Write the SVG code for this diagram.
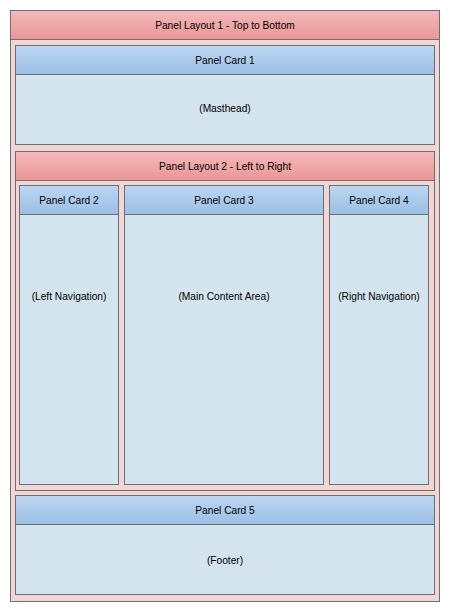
<svg xmlns="http://www.w3.org/2000/svg" width="450" height="612" viewBox="0 0 450 612">
<defs>
<linearGradient id="pink" x1="0" y1="0" x2="0" y2="1">
<stop offset="0" stop-color="#f4b9b9"/>
<stop offset="1" stop-color="#ea9696"/>
</linearGradient>
<linearGradient id="blue" x1="0" y1="0" x2="0" y2="1">
<stop offset="0" stop-color="#bcd6f1"/>
<stop offset="1" stop-color="#9bbfe6"/>
</linearGradient>
</defs>
<style>
rect{stroke:#6f6f6f;stroke-width:1}
.lay{fill:#f2d5d5}
.layh{fill:url(#pink)}
.card{fill:#d4e4ef}
.cardh{fill:url(#blue)}
text{font-family:"Liberation Sans",Arial,sans-serif;font-size:10.2px;fill:#000;text-anchor:middle;dominant-baseline:central}
</style>
<rect width="450" height="612" fill="#ffffff" style="stroke:none"/>
<g id="layout1">
<rect class="lay" x="10.5" y="10.5" width="429" height="591"/>
<rect class="layh" x="10.5" y="10.5" width="429" height="29"/>
<text x="225" y="25">Panel Layout 1 - Top to Bottom</text>
</g>
<g id="card1">
<rect class="card" x="15.5" y="45.5" width="419" height="99"/>
<rect class="cardh" x="15.5" y="45.5" width="419" height="29"/>
<text x="225" y="60">Panel Card 1</text>
<text x="225" y="108">(Masthead)</text>
</g>
<g id="layout2">
<rect class="lay" x="15.5" y="151.5" width="419" height="339"/>
<rect class="layh" x="15.5" y="151.5" width="419" height="29"/>
<text x="225" y="166">Panel Layout 2 - Left to Right</text>
</g>
<g id="card2">
<rect class="card" x="19.5" y="185.5" width="99" height="299"/>
<rect class="cardh" x="19.5" y="185.5" width="99" height="29"/>
<text x="69" y="200">Panel Card 2</text>
<text x="69" y="296">(Left Navigation)</text>
</g>
<g id="card3">
<rect class="card" x="124.5" y="185.5" width="199" height="299"/>
<rect class="cardh" x="124.5" y="185.5" width="199" height="29"/>
<text x="224" y="200">Panel Card 3</text>
<text x="224" y="296">(Main Content Area)</text>
</g>
<g id="card4">
<rect class="card" x="329.5" y="185.5" width="99" height="299"/>
<rect class="cardh" x="329.5" y="185.5" width="99" height="29"/>
<text x="379" y="200">Panel Card 4</text>
<text x="379" y="296">(Right Navigation)</text>
</g>
<g id="card5">
<rect class="card" x="15.5" y="495.5" width="419" height="99"/>
<rect class="cardh" x="15.5" y="495.5" width="419" height="29"/>
<text x="225" y="510">Panel Card 5</text>
<text x="225" y="560">(Footer)</text>
</g>
<g id="connectors"/>
</svg>
